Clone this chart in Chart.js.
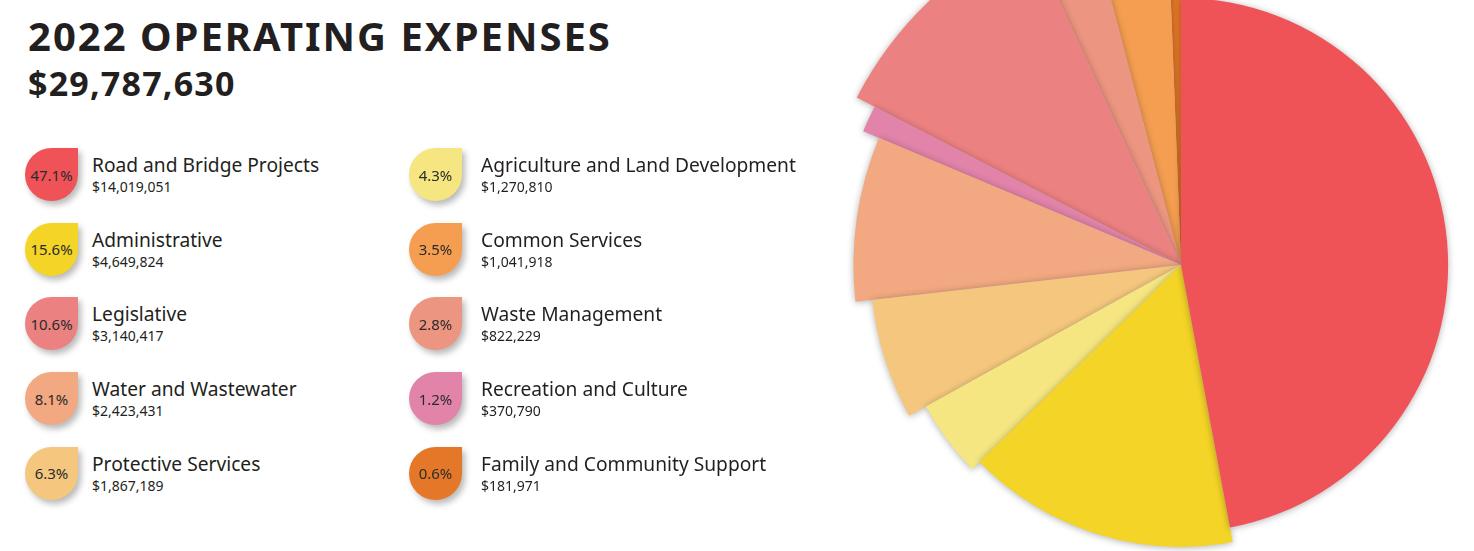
<!DOCTYPE html>
<html><head><meta charset="utf-8">
<script src="https://cdn.jsdelivr.net/npm/chart.js@4"></script>
<style>
html,body{margin:0;padding:0;background:#fff;}
body{width:1474px;height:551px;overflow:hidden;position:relative;font-family:'Noto Sans',sans-serif;color:#231f20;}
#title{position:absolute;left:28px;top:12px;font-weight:700;font-size:40px;letter-spacing:2px;line-height:48px;white-space:nowrap;}
#total{position:absolute;left:28px;top:61px;font-weight:700;font-size:34px;letter-spacing:1.2px;line-height:44px;white-space:nowrap;}
#legend{position:absolute;left:0;top:0;z-index:2;}
.item{position:absolute;height:53px;width:380px;}
.drop{position:absolute;left:0;top:0;width:53px;height:53px;border-radius:50% 0 50% 50%;box-shadow:3px 4px 6px rgba(0,0,0,0.28);display:flex;align-items:center;justify-content:center;font-size:15px;color:#2b2b2b;}
.lbl{position:absolute;top:6px;white-space:nowrap;font-size:19.2px;line-height:22px;}
.val{display:block;font-size:14px;line-height:21px;}
#wrap{position:absolute;left:761px;top:-155px;width:840px;height:840px;z-index:1;}
</style></head>
<body>
<div id="title">2022 OPERATING EXPENSES</div>
<div id="total">$29,787,630</div>
<div id="legend"></div>
<div id="wrap"><canvas id="c" width="840" height="840"></canvas></div>
<script>
// Categories in legend order (column 1 then column 2)
const categories = ['Road and Bridge Projects','Administrative','Legislative','Water and Wastewater','Protective Services',
  'Agriculture and Land Development','Common Services','Waste Management','Recreation and Culture','Family and Community Support'];
const amounts = [14019051, 4649824, 3140417, 2423431, 1867189, 1270810, 1041918, 822229, 370790, 181971];
const shares = ['47.1%','15.6%','10.6%','8.1%','6.3%','4.3%','3.5%','2.8%','1.2%','0.6%'];
const colors = ['#EF5357','#F3D427','#EC8181','#F2A880','#F5C77E','#F5E681','#F59E51','#EC9580','#E283A9','#E57828'];
// Order of the slices clockwise from 12 o'clock (indices into the arrays above)
const pieOrder = [0, 1, 5, 4, 3, 8, 2, 7, 6, 9];
// Relative outer radius of each slice (style), in pie order
const sliceRadius = [0.636, 0.671, 0.695, 0.740, 0.780, 0.821, 0.869, 0.917, 0.952, 0.988];

// Legend
const legend = document.getElementById('legend');
const fmt = n => '$' + n.toLocaleString('en-US');
categories.forEach((name, i) => {
  const col = Math.floor(i / 5), row = i % 5;
  const it = document.createElement('div');
  it.className = 'item';
  it.style.left = (col ? 409 : 25) + 'px';
  it.style.top = (148 + row * 74.7) + 'px';
  it.innerHTML = '<div class="drop" style="background:' + colors[i] + '">' + shares[i] + '</div>' +
    '<div class="lbl" style="left:' + (col ? 72 : 67) + 'px">' + name + '<span class="val">' + fmt(amounts[i]) + '</span></div>';
  legend.appendChild(it);
});

const radiusPlugin = {
  id: 'varRadius',
  beforeDatasetDraw(chart, args) {
    const meta = args.meta, ctx = chart.ctx;
    const base = chart.getDatasetMeta(0).controller.outerRadius;
    meta.data.forEach((arc, i) => { arc.outerRadius = base * sliceRadius[i]; });
    ctx.save();
    ctx.shadowColor = 'rgba(0,0,0,0.30)';
    ctx.shadowBlur = 7;
    ctx.shadowOffsetX = 0;
    ctx.shadowOffsetY = 1;
    for (let i = meta.data.length - 1; i >= 0; i--) meta.data[i].draw(ctx, chart.chartArea);
    ctx.restore();
    return false;
  }
};

new Chart(document.getElementById('c'), {
  type: 'pie',
  data: {
    labels: pieOrder.map(i => categories[i]),
    datasets: [{
      data: pieOrder.map(i => amounts[i]),
      backgroundColor: pieOrder.map(i => colors[i]),
      borderWidth: 0
    }]
  },
  options: {
    responsive: false,
    devicePixelRatio: 1,
    animation: false,
    layout: { padding: 0 },
    plugins: { legend: { display: false }, tooltip: { enabled: false } }
  },
  plugins: [radiusPlugin]
});
</script>
</body></html>
